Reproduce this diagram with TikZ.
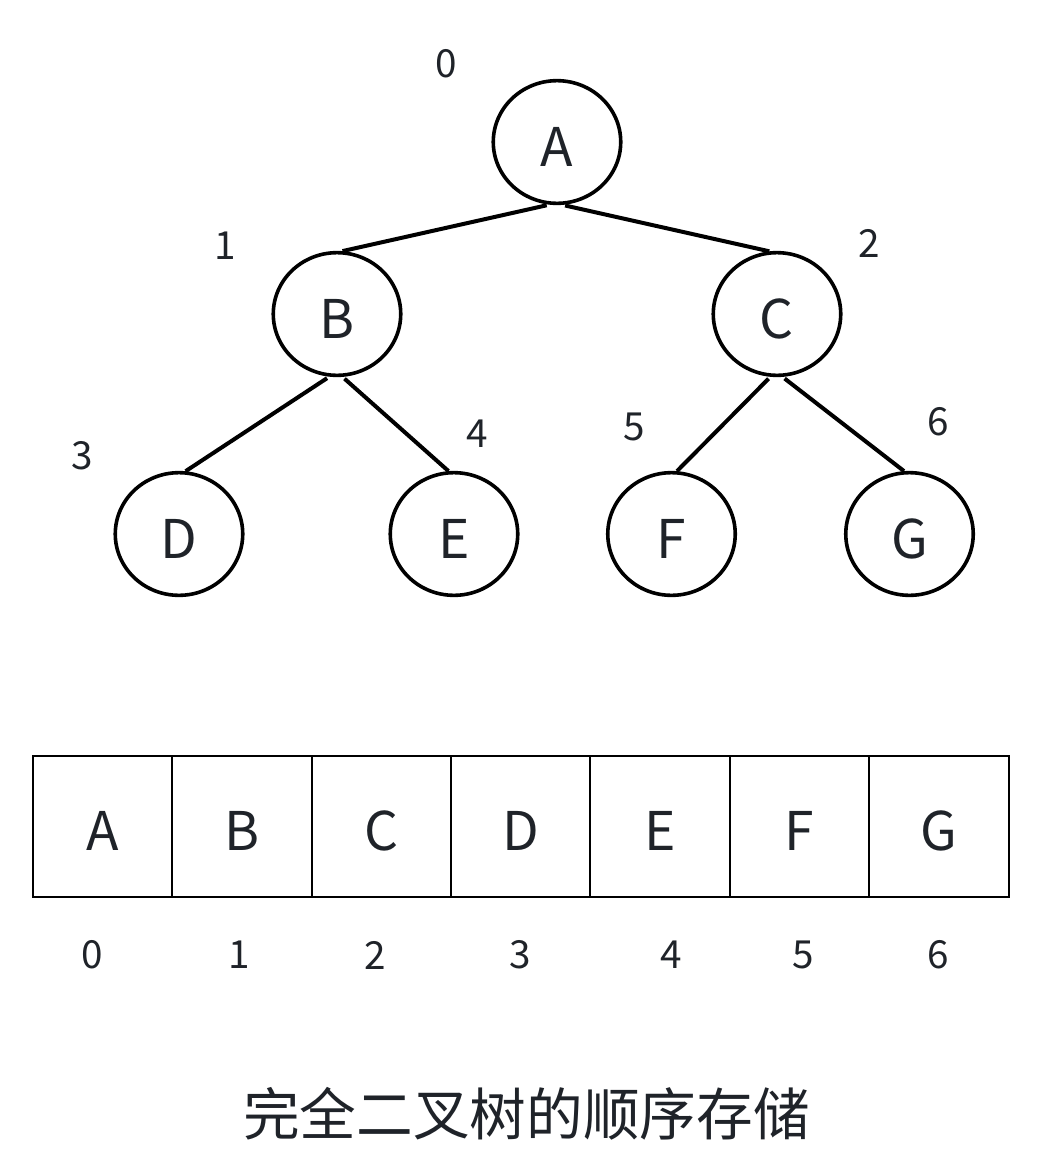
\documentclass[tikz,border=0pt]{standalone}
\usepackage{fontspec}
\setmainfont{Noto Sans CJK SC}
\usetikzlibrary{shapes.geometric}
\definecolor{inkgray}{HTML}{1F2329}

\begin{document}
\begin{tikzpicture}[x=0.75pt,y=-0.75pt,
    treenode/.style={ellipse,draw=black,line width=2.7pt,minimum width=95.6pt,
      minimum height=92pt,inner sep=0pt,text=inkgray,
      font=\fontsize{40}{40}\selectfont,text height=36pt,text depth=0pt},
    cell/.style={rectangle,draw=black,line width=1.5pt,minimum width=104.5pt,
      minimum height=105.7pt,inner sep=0pt,text=inkgray,
      font=\fontsize{40}{40}\selectfont,text height=36pt,text depth=0pt},
    idx/.style={inner sep=0pt,text=inkgray,font=\fontsize{29}{29}\selectfont},
    edge/.style={line width=3pt,black,shorten <=2pt}]
  % page
  \path[use as bounding box,fill=white] (0,0) rectangle (1039,1171);
  % the tree
  \node[treenode] (A) at (557,142) {A};
  \node[treenode] (B) at (337,314) {B};
  \node[treenode] (C) at (777,314) {C};
  \node[treenode] (D) at (179,534) {D};
  \node[treenode] (E) at (454,534) {E};
  \node[treenode] (F) at (671.5,534) {F};
  \node[treenode] (G) at (909.5,534) {G};
  \draw[edge] (A.263) -- (B.85);
  \draw[edge] (A.275) -- (C.97);
  \draw[edge] (B.263) -- (D.84);
  \draw[edge] (B.275) -- (E.95);
  \draw[edge] (C.264) -- (F.85);
  \draw[edge] (C.275) -- (G.95);
  % node numbers
  \node[idx] (nA) at (446,64) {0};
  \node[idx] (nB) at (225.5,246) {1};
  \node[idx] (nC) at (869.5,243.5) {2};
  \node[idx] (nD) at (82,456) {3};
  \node[idx] (nE) at (477,434) {4};
  \node[idx] (nF) at (634,427) {5};
  \node[idx] (nG) at (938,422) {6};
  % the array
  \foreach \ch [count=\i from 0] in {A,B,C,D,E,F,G}
    \node[cell] (cell\i) at ({102.7+139.36*\i},826.5) {\ch};
  \foreach \x [count=\i from 0] in {92.5,239,375,520,671.5,803,938.5}
    \node[idx] (pos\i) at (\x,955) {\i};
  % caption
  \node[inner sep=0pt,text=inkgray,font=\fontsize{42.5}{42.5}\selectfont]
    (title) at (526.5,1114) {完全二叉树的顺序存储};
\end{tikzpicture}
\end{document}
